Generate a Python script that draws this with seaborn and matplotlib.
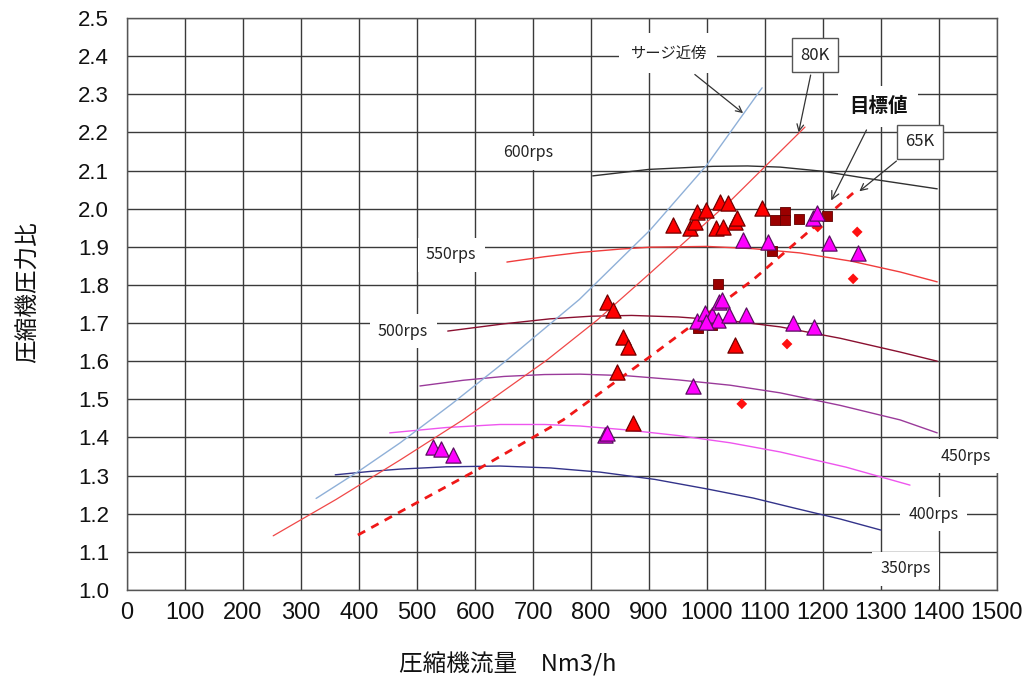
import numpy as np
import pandas as pd
import seaborn as sns
from matplotlib import pyplot as plt

# --- data --------------------------------------------------------------
# speed lines (flow Nm3/h, pressure ratio)
rps600_x = [803, 900, 1010, 1070, 1126, 1200, 1269, 1397]
rps600_y = [2.086, 2.103, 2.111, 2.112, 2.109, 2.098, 2.081, 2.052]
rps550_x = [655, 720, 780, 850, 902, 1000, 1080, 1160, 1250, 1333, 1397]
rps550_y = [1.860, 1.874, 1.885, 1.894, 1.899, 1.901, 1.895, 1.884, 1.862, 1.834, 1.808]
rps500_x = [553, 650, 729, 800, 870, 950, 1040, 1126, 1230, 1333, 1397]
rps500_y = [1.679, 1.698, 1.711, 1.718, 1.720, 1.716, 1.706, 1.690, 1.660, 1.624, 1.600]
rps450_x = [505, 580, 650, 720, 781, 860, 950, 1040, 1126, 1230, 1333, 1397]
rps450_y = [1.535, 1.550, 1.560, 1.565, 1.566, 1.562, 1.551, 1.537, 1.517, 1.484, 1.446, 1.412]
rps400_x = [453, 550, 643, 720, 781, 860, 950, 1040, 1126, 1240, 1350]
rps400_y = [1.412, 1.426, 1.434, 1.434, 1.430, 1.420, 1.405, 1.386, 1.362, 1.322, 1.275]
rps350_x = [359, 420, 471, 550, 643, 730, 816, 910, 1000, 1080, 1150, 1230, 1300]
rps350_y = [1.302, 1.311, 1.317, 1.323, 1.325, 1.320, 1.309, 1.290, 1.265, 1.241, 1.215, 1.186, 1.157]

# surge / 80K / 65K lines
surge_x = [326, 400, 471, 560, 655, 780, 902, 1000, 1095]
surge_y = [1.240, 1.312, 1.386, 1.488, 1.603, 1.762, 1.944, 2.115, 2.317]
k80_x = [252, 360, 471, 579, 724, 810, 902, 1040, 1169]
k80_y = [1.142, 1.237, 1.341, 1.446, 1.603, 1.707, 1.831, 2.020, 2.214]
k65_x = [398, 471, 600, 752, 900, 1079, 1252]
k65_y = [1.144, 1.205, 1.312, 1.446, 1.610, 1.813, 2.041]

# measured points
red_tri_x = [941, 971, 979, 983, 998, 1016, 1022, 1028, 1036, 1048, 1052, 1095,
             828, 838, 855, 864, 845, 872, 1048]
red_tri_y = [1.957, 1.949, 1.965, 1.991, 1.997, 1.949, 2.018, 1.952, 2.015, 1.965, 1.976, 2.003,
             1.755, 1.734, 1.664, 1.637, 1.572, 1.438, 1.643]
mag_tri_x = [528, 541, 562, 824, 828, 976, 983, 997, 1009, 1019, 998, 1021, 1026, 1038, 1067,
             1062, 1105, 1148, 1183, 1190, 1210, 1260, 1184]
mag_tri_y = [1.375, 1.370, 1.354, 1.407, 1.412, 1.535, 1.705, 1.726, 1.721, 1.708, 1.703, 1.755,
             1.761, 1.721, 1.721, 1.918, 1.913, 1.700, 1.976, 1.989, 1.910, 1.884, 1.690]
sq_x = [1117, 1134, 1134, 1159, 1207, 1019, 985, 1009, 1112]
sq_y = [1.970, 1.991, 1.970, 1.973, 1.981, 1.803, 1.687, 1.695, 1.889]
dia_x = [1191, 1259, 1252, 1060, 1138]
dia_y = [1.952, 1.939, 1.816, 1.488, 1.645]

speed_labels = ["600rps", "550rps", "500rps", "450rps", "400rps", "350rps"]
speed_label_pos = [(691, 2.146), (559, 1.879), (476, 1.679),
                   (1447, 1.351), (1391, 1.199), (1343, 1.055)]

# --- plot ----------------------------------------------------------------
sns.set_theme(style="whitegrid")
plt.rcParams['font.family'] = ['Noto Sans CJK JP', 'DejaVu Sans']

fig = plt.figure(figsize=(10.22, 6.8), dpi=100)
ax = fig.add_axes([0.1243, 0.1324, 0.8512, 0.8411])

curves = [(rps600_x, rps600_y, '#303030'), (rps550_x, rps550_y, '#f03c3c'),
          (rps500_x, rps500_y, '#8a1030'), (rps450_x, rps450_y, '#9a3a9a'),
          (rps400_x, rps400_y, '#ee55ee'), (rps350_x, rps350_y, '#33338a')]
for cx, cy, col in curves:
    sns.lineplot(x=cx, y=cy, color=col, lw=1.0, sort=False, estimator=None, ax=ax)

sns.lineplot(x=surge_x, y=surge_y, color='#8fb0d8', lw=1.0, sort=False, estimator=None, ax=ax)
sns.lineplot(x=k80_x, y=k80_y, color='#f04848', lw=0.9, sort=False, estimator=None, ax=ax)
sns.lineplot(x=k65_x, y=k65_y, color='#f01818', lw=2.0, sort=False, estimator=None,
             ax=ax, dashes=False, linestyle=(0, (3, 2.5)))

sns.scatterplot(x=red_tri_x, y=red_tri_y, marker='^', s=120, color='#ff0000',
                edgecolor='#700000', linewidth=0.9, ax=ax, zorder=5)
sns.scatterplot(x=mag_tri_x, y=mag_tri_y, marker='^', s=120, color='#ff00ff',
                edgecolor='#5a1060', linewidth=0.9, ax=ax, zorder=6)
sns.scatterplot(x=sq_x, y=sq_y, marker='s', s=55, color='#9a0000',
                edgecolor='#600000', linewidth=0.6, ax=ax, zorder=5)
sns.scatterplot(x=dia_x, y=dia_y, marker='D', s=30, color='#ff1010',
                edgecolor='none', ax=ax, zorder=5)

# speed labels with white background
for lab, (lx, ly) in zip(speed_labels, speed_label_pos):
    ax.text(lx, ly, lab, fontsize=11.5, ha='center', va='center', color='#222222',
            bbox=dict(facecolor='white', edgecolor='none', pad=6), zorder=4)

arrow = dict(arrowstyle='->', color='#333333', lw=0.9)
ax.annotate("サージ近傍", xy=(1066, 2.246), xytext=(933, 2.408), fontsize=11,
            ha='center', va='center', color='#222222',
            bbox=dict(facecolor='white', edgecolor='none', pad=8), arrowprops=arrow)
ax.annotate("80K", xy=(1157, 2.193), xytext=(1186, 2.403), fontsize=12,
            ha='center', va='center', color='#222222',
            bbox=dict(facecolor='white', edgecolor='#555555', pad=6), arrowprops=arrow)
ax.annotate("目標値", xy=(1212, 2.015), xytext=(1295, 2.267), fontsize=14,
            fontweight='bold', ha='center', va='center', color='#111111',
            bbox=dict(facecolor='white', edgecolor='none', pad=8), arrowprops=arrow)
ax.annotate("65K", xy=(1259, 2.041), xytext=(1367, 2.175), fontsize=12,
            ha='center', va='center', color='#222222',
            bbox=dict(facecolor='white', edgecolor='#555555', pad=6), arrowprops=arrow)

ax.set_xlim(0, 1500)
ax.set_ylim(1.0, 2.5)
ax.set_xticks(np.arange(0, 1501, 100))
ax.set_yticks(np.round(np.arange(1.0, 2.51, 0.1), 1))
ax.set_yticklabels([f"{v:.1f}" for v in np.arange(1.0, 2.51, 0.1)])
ax.grid(True, color='#3a3a3a', lw=1.0)
for sp in ax.spines.values():
    sp.set_color('#555555')
    sp.set_linewidth(1.0)
ax.tick_params(axis='both', length=0, colors='#111111')
ax.tick_params(axis='y', pad=13, labelsize=16)
ax.tick_params(axis='x', pad=9, labelsize=17)
for t in ax.get_yticklabels():
    t.set_family('Liberation Sans')
for t in ax.get_xticklabels():
    t.set_family(['Liberation Sans Narrow', 'Liberation Sans'])

ax.set_xlabel("圧縮機流量　Nm3/h", fontsize=17, color='#111111')
ax.set_ylabel("圧縮機圧力比", fontsize=17, color='#111111')
ax.xaxis.set_label_coords(0.437, -0.108)
ax.yaxis.set_label_coords(-0.1, 0.52)

plt.savefig("out.png", dpi=100)
